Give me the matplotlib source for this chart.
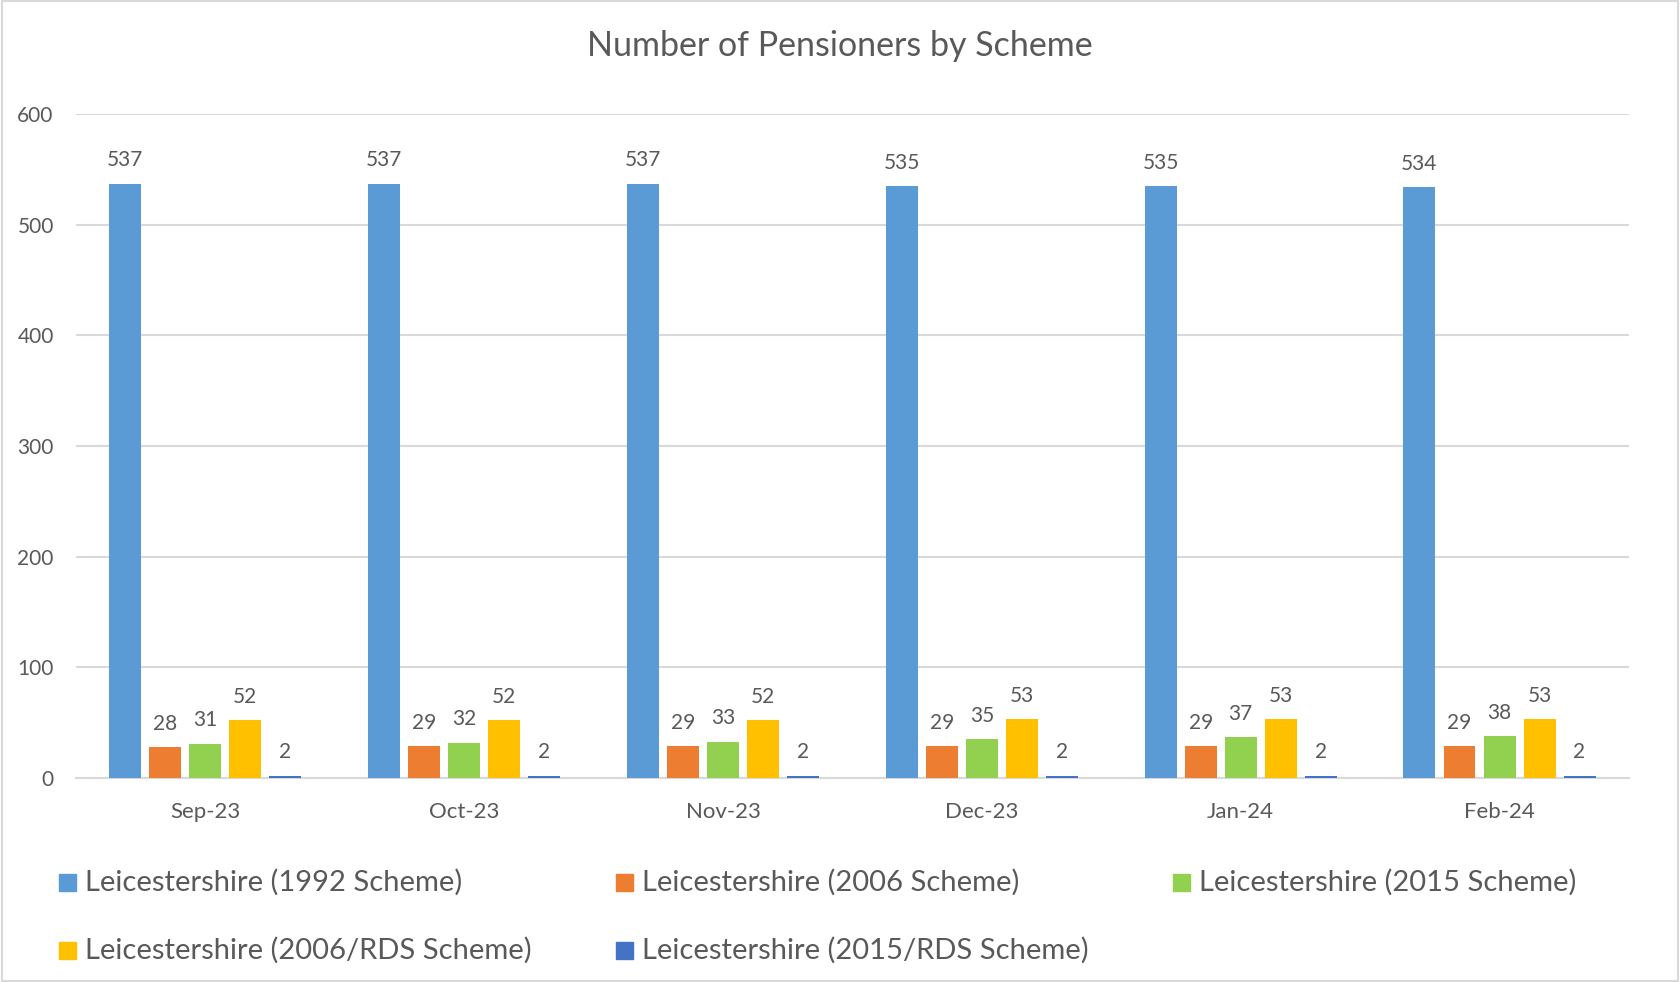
import numpy as np
import matplotlib
matplotlib.use("Agg")
import matplotlib.pyplot as plt
from matplotlib.patches import Rectangle

plt.rcParams['font.family'] = ['Lato', 'DejaVu Sans']

# data
months = ['Sep-23', 'Oct-23', 'Nov-23', 'Dec-23', 'Jan-24', 'Feb-24']
s1992 = [537, 537, 537, 535, 535, 534]
s2006 = [28, 29, 29, 29, 29, 29]
s2015 = [31, 32, 33, 35, 37, 38]
s2006_rds = [52, 52, 52, 53, 53, 53]
s2015_rds = [2, 2, 2, 2, 2, 2]

series = [s1992, s2006, s2015, s2006_rds, s2015_rds]
names = ['Leicestershire (1992 Scheme)', 'Leicestershire (2006 Scheme)',
         'Leicestershire (2015 Scheme)', 'Leicestershire (2006/RDS Scheme)',
         'Leicestershire (2015/RDS Scheme)']
colors = ['#5B9BD5', '#ED7D31', '#92D050', '#FFC000', '#4472C4']

txt = '#595959'
grid = '#D9D9D9'

fig = plt.figure(figsize=(16.8, 9.82), dpi=100)
ax = fig.add_axes([0.0452, 0.2077, 0.9244, 0.6762])

x = np.arange(len(months))
bw = 0.1236
pitch = 0.1546
for i, (vals, c) in enumerate(zip(series, colors)):
    xs = x + (i - 2) * pitch
    bars = ax.bar(xs, vals, width=bw, color=c, zorder=3)
    for xx, v in zip(xs, vals):
        ax.annotate(str(v), (xx, v), xytext=(0, 12.5), textcoords='offset points',
                    ha='center', va='baseline', fontsize=15, color=txt)

ax.set_xlim(-0.5, 5.5)
ax.set_ylim(0, 600)
ax.set_yticks(range(0, 601, 100))
ax.set_xticks(x)
ax.set_xticklabels(months)
ax.yaxis.grid(True, color=grid, linewidth=1.5, zorder=0)
ax.tick_params(axis='both', length=0, labelsize=15, labelcolor=txt)
ax.tick_params(axis='x', labelsize=16)
ax.tick_params(axis='y', pad=16)
ax.tick_params(axis='x', pad=17.5)
for s in ['top', 'right', 'left']:
    ax.spines[s].set_visible(False)
ax.spines['bottom'].set_color(grid)
ax.spines['bottom'].set_linewidth(1.5)

fig.text(0.5, 1 - 46 / 982, 'Number of Pensioners by Scheme', ha='center', va='center',
         fontsize=24.5, color=txt)

# legend laid out like Excel's: 3 equal columns, 2 rows
col_x = [59, 616, 1173]
row_y = [882, 950]
for i, (n, c) in enumerate(zip(names, colors)):
    cx = col_x[i % 3] / 1680
    cy = 1 - row_y[i // 3] / 982
    fig.patches.append(Rectangle((cx, cy - 8.5 / 982), 17 / 1680, 17 / 982,
                                 transform=fig.transFigure, color=c))
    fig.text(cx + 26 / 1680, cy, n, ha='left', va='center', fontsize=21, color=txt)

# chart area border
fig.patches.append(Rectangle((0.001, 0.001), 0.998, 0.998, transform=fig.transFigure,
                             fill=False, edgecolor=grid, linewidth=1.5))

fig.savefig('out.png', dpi=100)
